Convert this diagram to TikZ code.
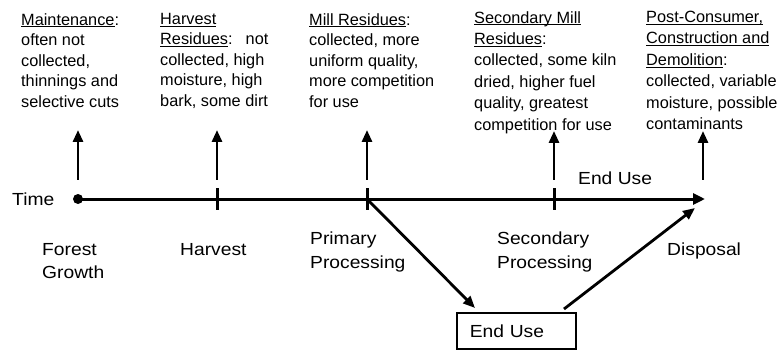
\documentclass[tikz,border=0pt]{standalone}
\usepackage{fontspec}
\setmainfont{Liberation Sans}
\newfontfamily\widesans[FakeStretch=1.1]{Liberation Sans}
\usetikzlibrary{arrows.meta}
\newcommand{\uln}[1]{\underline{\raisebox{0pt}[\height][0pt]{#1}}}

\begin{document}
\begin{tikzpicture}[x=1pt,y=-1pt,
  every node/.style={inner sep=0pt,anchor=north west,align=left,font=\fontsize{16.3}{20.5}\selectfont},
  tall/.style={font=\fontsize{16.3}{21.4}\selectfont},
  stage/.style={font=\widesans\fontsize{17.5}{23.5}\selectfont},
  axis/.style={line width=3pt,-{Triangle[length=12pt,width=11pt]}},
  arr/.style={line width=2.8pt,-{Triangle[length=12pt,width=10pt]}},
  tick/.style={line width=3pt},
  usebox/.style={stage,draw,line width=1.5pt,minimum height=36pt,text width=93pt,inner xsep=13pt,inner ysep=0pt}]
\useasboundingbox (0,0) rectangle (782,350);
%
\node (maint) at (21,13) {\uln{Maintenance}:\\often not\\collected,\\thinnings and\\selective cuts};
\node (harvres) at (160,13) {\uln{Harvest}\\\uln{Residues}:\hspace{0.8em}not\\collected, high\\moisture, high\\bark, some dirt};
\node (millres) at (309,13) {\uln{Mill Residues}:\\collected, more\\uniform quality,\\more competition\\for use};
\node[tall] (secres) at (474,11) {\uln{Secondary Mill}\\\uln{Residues}:\\collected, some kiln\\dried, higher fuel\\quality, greatest\\competition for use};
\node[tall] (postres) at (646,11) {\uln{Post-Consumer,}\\\uln{Construction and}\\\uln{Demolition}:\\collected, variable\\moisture, possible\\contaminants};
%
\node[stage] (time) at (12,193) {Time};
\node[stage] (enduse) at (578,172) {End Use};
\node[stage] (forest) at (42,243) {Forest\\Growth};
\node[stage] (harvest) at (180,243) {Harvest};
\node[stage] (primary) at (310,232) {Primary\\Processing};
\node[stage] (secondary) at (497,232) {Secondary\\Processing};
\node[stage] (disposal) at (667,243) {Disposal};
\node[usebox] (box) at (456,312) {End Use};
%
\coordinate (t0) at (78,199);
\coordinate (t1) at (217,199);
\coordinate (t2) at (367,199);
\coordinate (t3) at (554,199);
\coordinate (t4) at (705,199);
%
\coordinate (u0) at (78,180);
\coordinate (u1) at (217,180);
\coordinate (u2) at (367,180);
\coordinate (u3) at (554,180);
\coordinate (u4) at (703,180);
\coordinate (v0) at (78,130);
\coordinate (v1) at (217,130);
\coordinate (v2) at (367,130);
\coordinate (v3) at (554,131);
\coordinate (v4) at (703,131);
%
\coordinate (in) at (475,308);
\coordinate (out) at (564,309);
\coordinate (back) at (695,208);
%
\draw[axis] (t0) -- (t4);
\fill (t0) circle (5pt);
\draw[tick] (217,188) -- (217,210);
\draw[tick] (367,188) -- (367,210);
\draw[tick] (554,188) -- (554,210);
%
\draw[arr] (u0) -- (v0);
\draw[arr] (u1) -- (v1);
\draw[arr] (u2) -- (v2);
\draw[arr] (u3) -- (v3);
\draw[arr] (u4) -- (v4);
%
\draw[arr] (t2) -- (in);
\draw[arr] (out) -- (back);
%
\end{tikzpicture}
\end{document}
